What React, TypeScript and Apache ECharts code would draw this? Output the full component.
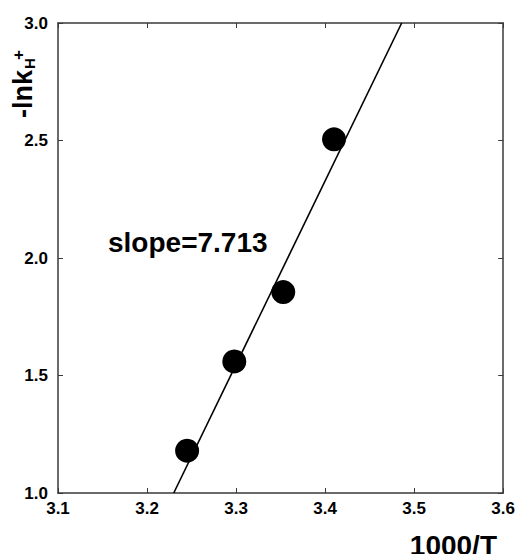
import React, { useEffect, useRef } from "react";
import * as echarts from "echarts";

const invT: number[] = [3.245, 3.298, 3.353, 3.41];
const negLnK: number[] = [1.18, 1.56, 1.855, 2.505];
const fitX: number[] = [3.23, 3.486];
const fitY: number[] = [1.0, 3.0];
const slopeLabel = "slope=7.713";
const xTitle = "1000/T";

const FONT = "'Liberation Sans', Arial, Helvetica, sans-serif";

export default function App() {
  const ref = useRef<HTMLDivElement>(null);
  useEffect(() => {
    if (!ref.current) return;
    const chart = echarts.init(ref.current, null, { renderer: "svg" });
    const axisLine = { show: true, lineStyle: { color: "#3a3a3a", width: 1.5 } };
    const tick = { show: true, inside: true, length: 5, lineStyle: { color: "#3a3a3a", width: 1 } };
    chart.setOption({
      animation: false,
      backgroundColor: "#ffffff",
      grid: { left: 58, right: 14, top: 23, bottom: 61, containLabel: false },
      xAxis: [
        {
          type: "value", min: 3.1, max: 3.6, interval: 0.1, position: "bottom",
          axisLine, axisTick: tick, splitLine: { show: false },
          axisLabel: { show: true, color: "#000", fontFamily: FONT, fontSize: 17, fontWeight: "bold", margin: 7,
            formatter: (v: number) => v.toFixed(1) },
        },
        {
          type: "value", min: 3.1, max: 3.6, interval: 0.1, position: "top",
          axisLine, axisTick: tick, splitLine: { show: false }, axisLabel: { show: false },
        },
      ],
      yAxis: [
        {
          type: "value", min: 1.0, max: 3.0, interval: 0.5, position: "left",
          axisLine, axisTick: tick, splitLine: { show: false },
          axisLabel: { show: true, color: "#000", fontFamily: FONT, fontSize: 17, fontWeight: "bold", margin: 10,
            formatter: (v: number) => v.toFixed(1) },
        },
        {
          type: "value", min: 1.0, max: 3.0, interval: 0.5, position: "right",
          axisLine, axisTick: tick, splitLine: { show: false }, axisLabel: { show: false },
        },
      ],
      series: [
        {
          type: "line", data: fitX.map((x, i) => [x, fitY[i]]), symbol: "none",
          lineStyle: { color: "#000", width: 1.6 }, xAxisIndex: 0, yAxisIndex: 0,
        },
        {
          type: "scatter", data: invT.map((x, i) => [x, negLnK[i]]), symbol: "circle",
          symbolSize: 24, itemStyle: { color: "#000", opacity: 1 }, xAxisIndex: 0, yAxisIndex: 0,
        },
      ],
      graphic: [
        {
          type: "text", left: 108, top: 228,
          style: { text: slopeLabel, font: `bold 28px ${FONT}`, fill: "#000" },
        },
        {
          type: "text", x: 497, y: 531,
          style: { text: xTitle, font: `bold 28px ${FONT}`, fill: "#000", textAlign: "right", textVerticalAlign: "top" },
        },
        {
          type: "group", x: 23, y: 118, rotation: Math.PI / 2,
          children: [
            { type: "text", x: 0, y: 0,
              style: { text: "-lnk", font: `bold 27px ${FONT}`, fill: "#000", textAlign: "left", textVerticalAlign: "middle" } },
            { type: "text", x: 49, y: 6,
              style: { text: "H", font: `bold 15px ${FONT}`, fill: "#000", textAlign: "left", textVerticalAlign: "middle" } },
            { type: "text", x: 58, y: -5,
              style: { text: "+", font: `bold 17px ${FONT}`, fill: "#000", textAlign: "left", textVerticalAlign: "middle" } },
          ],
        },
      ],
    });
    return () => chart.dispose();
  }, []);
  return <div ref={ref} style={{ position: "fixed", left: 0, top: 0, width: 518, height: 554 }} />;
}
